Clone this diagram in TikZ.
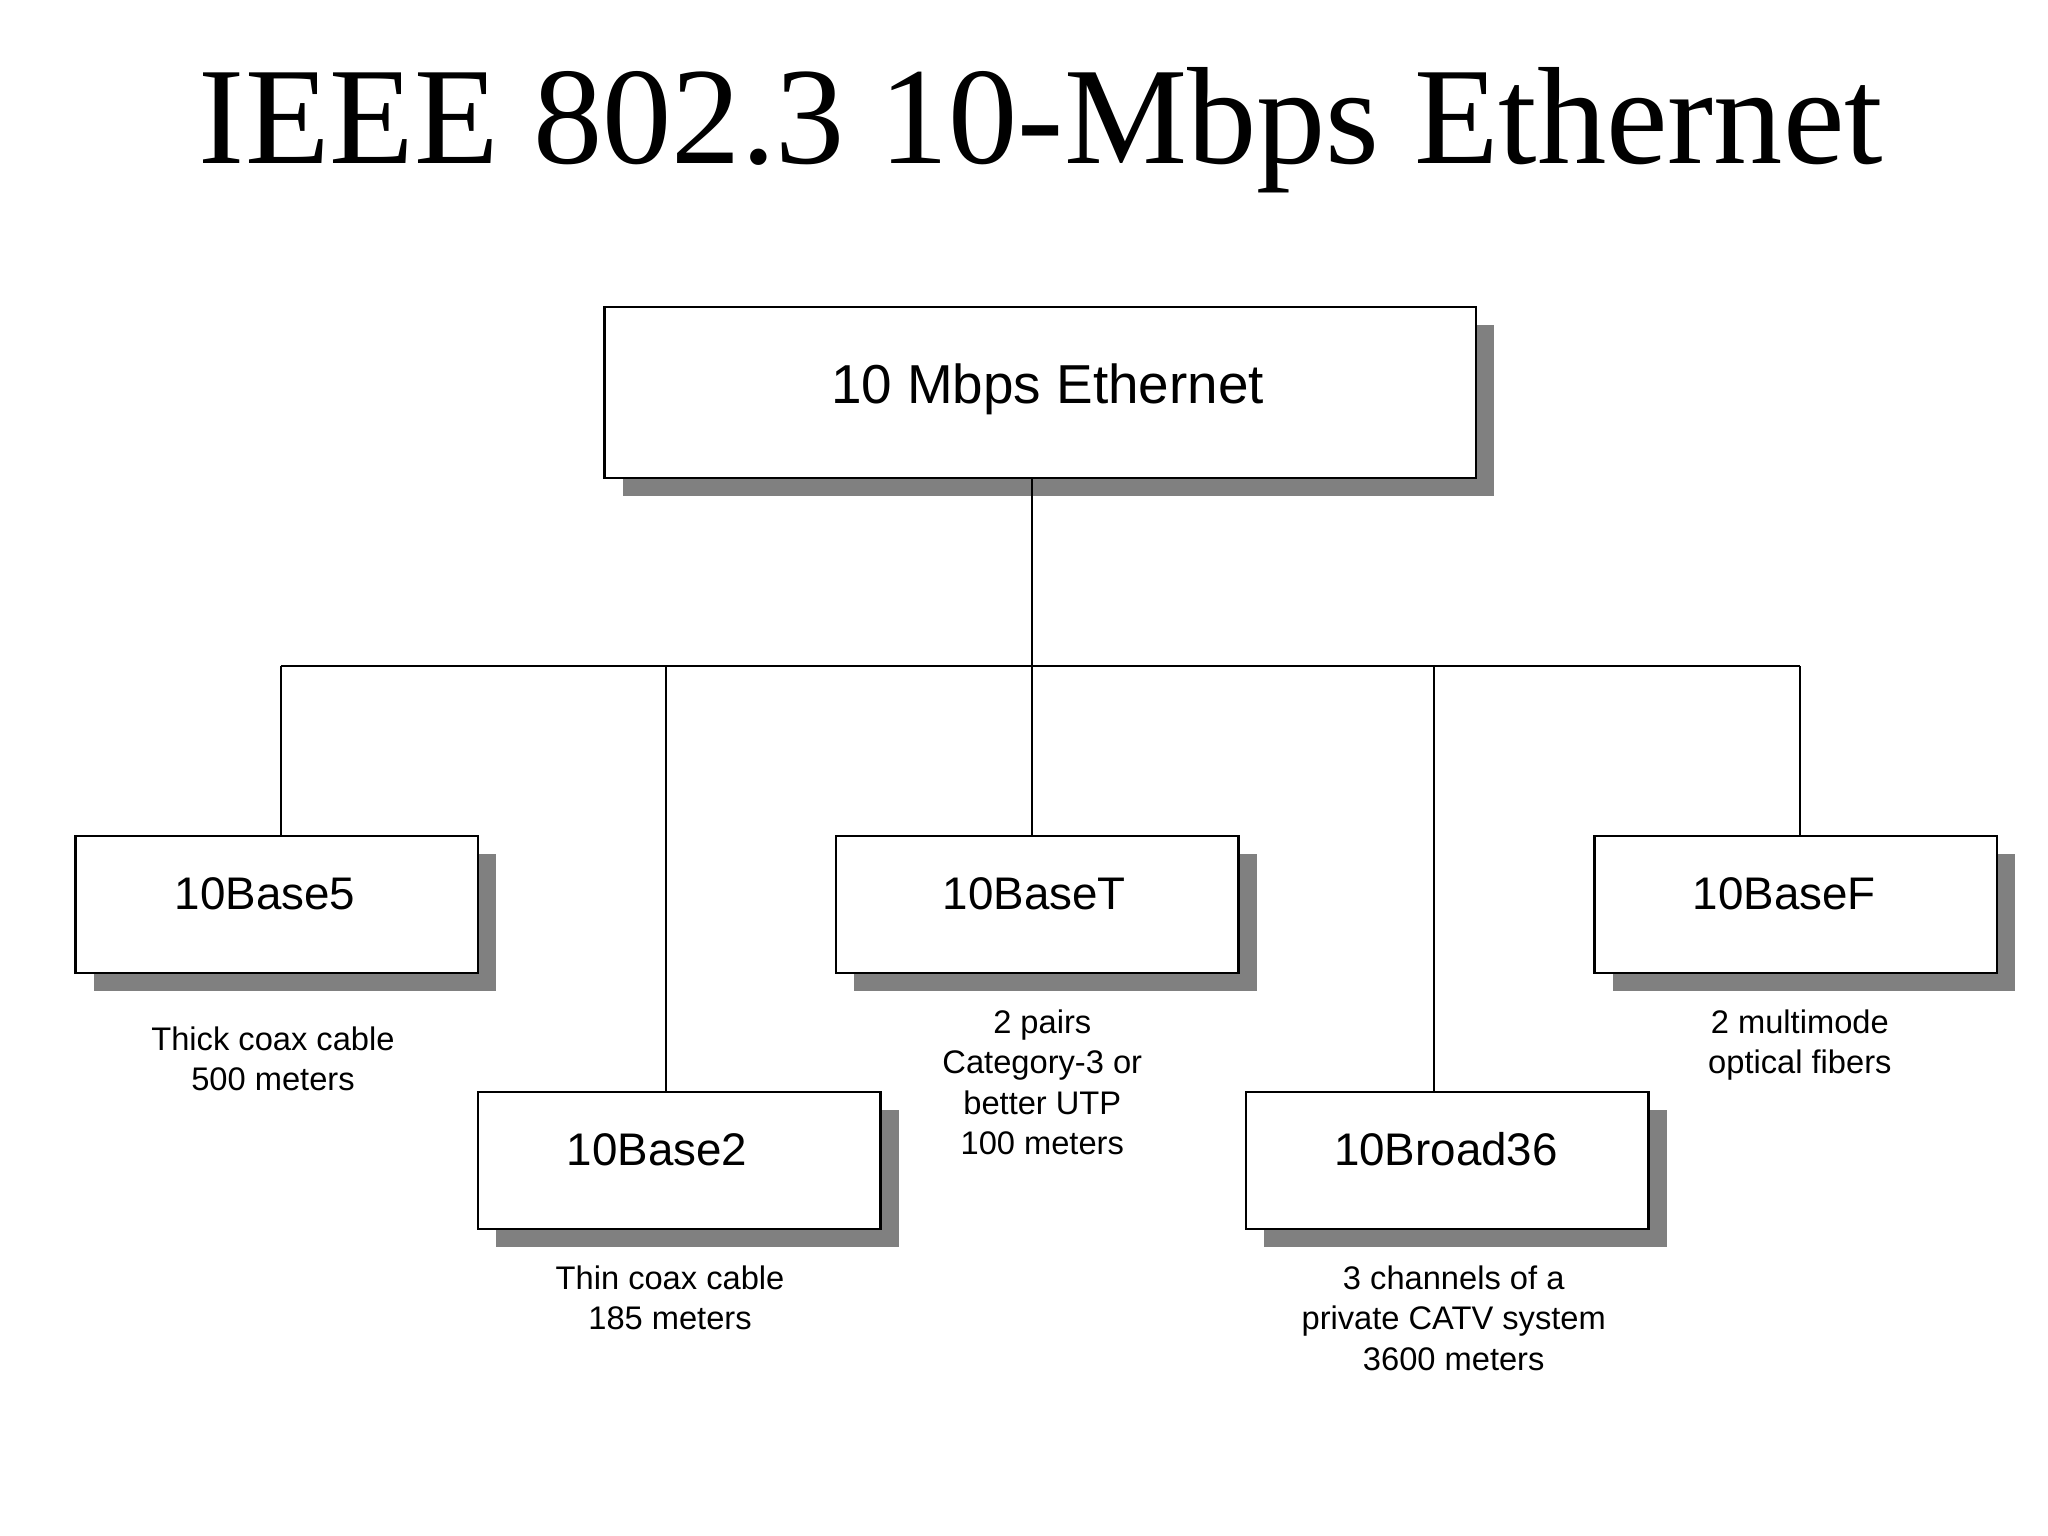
\documentclass[tikz,border=0pt]{standalone}
\usepackage{fontspec}
\setmainfont{Liberation Sans}
\newfontfamily\titlefont{Liberation Serif}
\begin{document}
\begin{tikzpicture}[x=0.5pt,y=-0.5pt,
  bx/.style={draw=black,fill=white,line width=1pt},
  sh/.style={fill=black!50,draw=none},
  lbl/.style={font=\fontsize{17.5}{20}\selectfont,anchor=center},
  desc/.style={font=\fontsize{12.5}{15.5}\selectfont,align=center,anchor=north},
  ln/.style={line width=1pt}]
\useasboundingbox (0,0) rectangle (1568,1176);
\node[font=\titlefont\fontsize{53}{60}\selectfont] (title) at (797,100) {IEEE 802.3 10-Mbps Ethernet};
% top
\fill[sh] (477,249) rectangle (1144,380);
\draw[bx] (463,235) rectangle (1130,366);
\node[font=\fontsize{21}{24}\selectfont] (top) at (802,298) {10 Mbps Ethernet};
\coordinate (tb) at (790,366);
% boxes
\foreach \n/\x/\y/\t/\tx in {b5/58/640/10Base5/203, bt/640/640/10BaseT/792, bf/1221/640/10BaseF/1366, b2/366/836/10Base2/503, bb/954/836/10Broad36/1107}{
  \fill[sh] (\x+14,\y+14) rectangle (\x+322,\y+119);
  \draw[bx] (\x,\y) rectangle (\x+308,\y+105);
  \node[lbl] (\n) at (\tx,\y+44) {\t};
}
\coordinate (j) at (790,510);
\draw[ln] (tb) -- (j);
\draw[ln] (215,510) -- (1378,510);
\draw[ln] (215,510) -- (215,640);
\draw[ln] (510,510) -- (510,836);
\draw[ln] (790,510) -- (790,640);
\draw[ln] (1098,510) -- (1098,836);
\draw[ln] (1378,510) -- (1378,640);
\node[desc] (d5) at (209,779) {Thick coax cable\\500 meters};
\node[desc] (dt) at (798,766) {2 pairs\\Category-3 or\\better UTP\\100 meters};
\node[desc] (df) at (1378,766) {2 multimode\\optical fibers};
\node[desc] (d2) at (513,962) {Thin coax cable\\185 meters};
\node[desc] (db) at (1113,962) {3 channels of a\\private CATV system\\3600 meters};
\end{tikzpicture}
\end{document}
